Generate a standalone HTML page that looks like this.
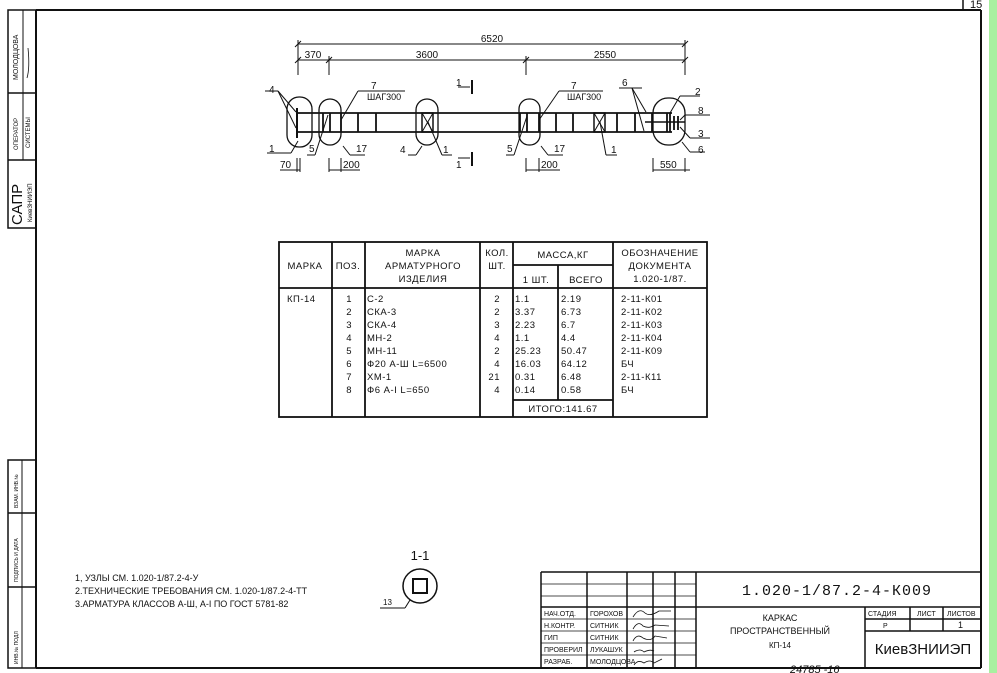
<!DOCTYPE html>
<html><head><meta charset="utf-8"><style>
html,body{margin:0;padding:0;background:#fff;}
svg{display:block;}
text{font-family:"Liberation Sans",sans-serif;fill:#111;}
.m{font-family:"Liberation Mono",monospace;}
</style></head><body>
<svg width="997" height="673" viewBox="0 0 997 673" xmlns="http://www.w3.org/2000/svg">
<rect x="0" y="0" width="997" height="673" fill="#fff"/>
<rect x="989" y="0" width="8" height="673" fill="#a8f0a0"/>
<g stroke="#111" fill="none">
<!-- frame -->
<line x1="36" y1="10" x2="981" y2="10" stroke-width="2"/>
<line x1="981" y1="10" x2="981" y2="668" stroke-width="2"/>
<line x1="36" y1="668" x2="981" y2="668" stroke-width="2"/>
<line x1="36" y1="10" x2="36" y2="668" stroke-width="2"/>
<line x1="963" y1="0" x2="963" y2="10" stroke-width="1.5"/>
<!-- left stamps -->
<rect x="8" y="10" width="28" height="218" stroke-width="1.5"/>
<line x1="23" y1="10" x2="23" y2="160" stroke-width="1"/>
<line x1="8" y1="93" x2="36" y2="93" stroke-width="1.5"/>
<line x1="8" y1="160" x2="36" y2="160" stroke-width="1.5"/>
<rect x="8" y="460" width="28" height="208" stroke-width="1.5"/>
<line x1="22" y1="460" x2="22" y2="668" stroke-width="1"/>
<line x1="8" y1="513" x2="36" y2="513" stroke-width="1.5"/>
<line x1="8" y1="587" x2="36" y2="587" stroke-width="1.5"/>
<!-- dimension lines -->
<g stroke-width="1">
<line x1="298" y1="44" x2="685" y2="44"/>
<line x1="298" y1="60" x2="685" y2="60"/>
<line x1="298" y1="40" x2="298" y2="75"/>
<line x1="329" y1="56" x2="329" y2="75"/>
<line x1="526" y1="56" x2="526" y2="75"/>
<line x1="685" y1="40" x2="685" y2="75"/>
<line x1="295" y1="47" x2="301" y2="41"/><line x1="682" y1="47" x2="688" y2="41"/>
<line x1="295" y1="63" x2="301" y2="57"/><line x1="326" y1="63" x2="332" y2="57"/>
<line x1="523" y1="63" x2="529" y2="57"/><line x1="682" y1="63" x2="688" y2="57"/>
</g>
<!-- beam -->
<line x1="297" y1="113" x2="672" y2="113" stroke-width="1.8"/>
<line x1="297" y1="132" x2="672" y2="132" stroke-width="1.8"/>
<line x1="297" y1="108" x2="297" y2="138" stroke-width="2"/>
<line x1="297" y1="113" x2="312" y2="113" stroke-width="1"/>
<g stroke-width="1.8">
<line x1="323" y1="113" x2="323" y2="132"/><line x1="330" y1="113" x2="330" y2="132"/>
<line x1="341" y1="113" x2="341" y2="132"/><line x1="358" y1="113" x2="358" y2="132"/>
<line x1="376" y1="113" x2="376" y2="132"/>
<line x1="520" y1="113" x2="520" y2="132"/><line x1="527" y1="113" x2="527" y2="132"/>
<line x1="539" y1="113" x2="539" y2="132"/><line x1="556" y1="113" x2="556" y2="132"/>
<line x1="573" y1="113" x2="573" y2="132"/><line x1="617" y1="113" x2="617" y2="132"/>
<line x1="635" y1="113" x2="635" y2="132"/><line x1="652" y1="113" x2="652" y2="132"/>
<line x1="667" y1="113" x2="667" y2="132"/><line x1="670" y1="113" x2="670" y2="132"/>
<line x1="674" y1="116" x2="674" y2="130"/><line x1="678" y1="116" x2="678" y2="130"/>
</g>
<line x1="645" y1="122" x2="685" y2="122" stroke-width="1.5"/>
<rect x="422" y="113" width="11" height="19" stroke-width="1.5"/>
<line x1="422" y1="113" x2="433" y2="132"/><line x1="433" y1="113" x2="422" y2="132"/>
<rect x="594" y="113" width="11" height="19" stroke-width="1.5"/>
<line x1="594" y1="113" x2="605" y2="132"/><line x1="605" y1="113" x2="594" y2="132"/>
<!-- ovals -->
<g stroke-width="1.3">
<rect x="287" y="97" width="25" height="50" rx="12"/>
<rect x="319" y="99" width="22" height="46" rx="11"/>
<rect x="416" y="99" width="22" height="46" rx="11"/>
<rect x="519" y="99" width="21" height="46" rx="10"/>
<rect x="653" y="98" width="32" height="47" rx="15"/>
</g>
<!-- section marks -->
<line x1="472" y1="80" x2="472" y2="94" stroke-width="2"/>
<line x1="458" y1="87" x2="470" y2="87"/>
<line x1="472" y1="152" x2="472" y2="166" stroke-width="2"/>
<line x1="458" y1="158" x2="470" y2="158"/>
<!-- leaders -->
<g stroke-width="1">
<line x1="265" y1="91" x2="278" y2="91"/><line x1="278" y1="91" x2="296" y2="112"/><line x1="278" y1="91" x2="296" y2="128"/>
<line x1="267" y1="153" x2="291" y2="153"/><line x1="291" y1="153" x2="298" y2="141"/>
<line x1="307" y1="155" x2="315" y2="155"/><line x1="315" y1="155" x2="328" y2="115"/>
<line x1="343" y1="146" x2="350" y2="155"/><line x1="350" y1="155" x2="365" y2="155"/>
<line x1="405" y1="91" x2="358" y2="91"/><line x1="358" y1="91" x2="341" y2="120"/>
<line x1="408" y1="155" x2="416" y2="155"/><line x1="416" y1="155" x2="422" y2="146"/>
<line x1="428" y1="122" x2="442" y2="155"/><line x1="442" y1="155" x2="452" y2="155"/>
<line x1="506" y1="155" x2="514" y2="155"/><line x1="514" y1="155" x2="527" y2="116"/>
<line x1="541" y1="146" x2="548" y2="155"/><line x1="548" y1="155" x2="563" y2="155"/>
<line x1="603" y1="91" x2="559" y2="91"/><line x1="559" y1="91" x2="539" y2="120"/>
<line x1="600" y1="122" x2="606" y2="155"/><line x1="606" y1="155" x2="617" y2="155"/>
<line x1="619" y1="88" x2="642" y2="88"/><line x1="632" y1="88" x2="646" y2="112"/><line x1="632" y1="88" x2="644" y2="131"/>
<line x1="680" y1="96" x2="700" y2="96"/><line x1="680" y1="96" x2="670" y2="113"/>
<line x1="685" y1="115" x2="710" y2="115"/><line x1="680" y1="120" x2="685" y2="115"/>
<line x1="680" y1="127" x2="690" y2="138"/><line x1="690" y1="138" x2="710" y2="138"/>
<line x1="682" y1="142" x2="690" y2="152"/><line x1="690" y1="152" x2="705" y2="152"/>
</g>
<!-- bottom dims -->
<g stroke-width="1">
<line x1="280" y1="170" x2="300" y2="170"/><line x1="297" y1="158" x2="297" y2="172"/><line x1="300" y1="158" x2="300" y2="172"/>
<line x1="329" y1="158" x2="329" y2="172"/><line x1="341" y1="158" x2="341" y2="172"/><line x1="329" y1="170" x2="360" y2="170"/>
<line x1="526" y1="158" x2="526" y2="172"/><line x1="539" y1="158" x2="539" y2="172"/><line x1="526" y1="170" x2="560" y2="170"/>
<line x1="653" y1="158" x2="653" y2="172"/><line x1="685" y1="158" x2="685" y2="172"/><line x1="653" y1="170" x2="690" y2="170"/>
</g>
<!-- table -->
<g stroke-width="1.8">
<rect x="279" y="242" width="428" height="175"/>
<line x1="279" y1="288" x2="707" y2="288"/>
<line x1="332" y1="242" x2="332" y2="417"/>
<line x1="365" y1="242" x2="365" y2="417"/>
<line x1="480" y1="242" x2="480" y2="417"/>
<line x1="513" y1="242" x2="513" y2="417"/>
<line x1="613" y1="242" x2="613" y2="417"/>
<line x1="513" y1="265" x2="613" y2="265"/>
<line x1="558" y1="265" x2="558" y2="400"/>
<line x1="513" y1="400" x2="613" y2="400"/>
</g>
<!-- section 1-1 -->
<circle cx="420" cy="586" r="17" stroke-width="1.5"/>
<rect x="413" y="579" width="14" height="14" stroke-width="2"/>
<line x1="380" y1="608" x2="405" y2="608"/><line x1="405" y1="608" x2="410" y2="600"/>
<!-- title block -->
<g stroke-width="1.5">
<line x1="541" y1="572" x2="981" y2="572"/>
<line x1="541" y1="572" x2="541" y2="668"/>
<line x1="587" y1="572" x2="587" y2="668"/>
<line x1="627" y1="572" x2="627" y2="668"/>
<line x1="653" y1="572" x2="653" y2="668"/>
<line x1="675" y1="572" x2="675" y2="668"/>
<line x1="696" y1="572" x2="696" y2="668"/>
<line x1="541" y1="607" x2="981" y2="607"/>
<line x1="865" y1="607" x2="865" y2="668"/>
<line x1="865" y1="619" x2="981" y2="619"/>
<line x1="865" y1="631" x2="981" y2="631"/>
<line x1="910" y1="607" x2="910" y2="631"/>
<line x1="943" y1="607" x2="943" y2="631"/>
</g>
<g stroke-width="0.8">
<line x1="541" y1="584" x2="696" y2="584"/>
<line x1="541" y1="596" x2="696" y2="596"/>
<line x1="541" y1="619" x2="696" y2="619"/>
<line x1="541" y1="631" x2="696" y2="631"/>
<line x1="541" y1="643" x2="696" y2="643"/>
<line x1="541" y1="655" x2="696" y2="655"/>
</g>
<!-- signatures -->
<g stroke-width="0.8">
<path d="M633 617 q6 -10 12 -4 q5 4 14 -2 l12 0"/>
<path d="M633 629 q5 -9 10 -3 q6 3 12 -1 l14 1"/>
<path d="M633 641 q4 -8 10 -3 q8 4 12 -2 l12 2"/>
<path d="M634 652 q6 -4 10 0 q6 -3 10 -1"/>
<path d="M634 665 q4 -6 10 -2 q6 -4 10 0 l8 -4"/>
</g>
</g>
<!-- texts -->
<g class="m" font-size="10">
<text x="492" y="42" text-anchor="middle">6520</text>
<text x="313" y="58" text-anchor="middle">370</text>
<text x="427" y="58" text-anchor="middle">3600</text>
<text x="605" y="58" text-anchor="middle">2550</text>
<text x="269" y="93">4</text>
<text x="371" y="89">7</text><text x="367" y="100" font-size="9">ШАГ300</text>
<text x="571" y="89">7</text><text x="567" y="100" font-size="9">ШАГ300</text>
<text x="456" y="86">1</text><text x="456" y="168">1</text>
<text x="622" y="86">6</text>
<text x="695" y="95">2</text><text x="698" y="114">8</text><text x="698" y="137">3</text><text x="698" y="153">6</text>
<text x="269" y="152">1</text><text x="309" y="152">5</text><text x="356" y="152">17</text>
<text x="400" y="153">4</text><text x="443" y="153">1</text>
<text x="507" y="152">5</text><text x="554" y="152">17</text><text x="611" y="153">1</text>
<text x="280" y="168">70</text><text x="343" y="168">200</text><text x="541" y="168">200</text><text x="660" y="168">550</text>
</g>
<g class="m" font-size="9.5" letter-spacing="0.5">
<text x="305" y="269" text-anchor="middle">МАРКА</text>
<text x="348" y="269" text-anchor="middle">ПОЗ.</text>
<text x="423" y="256" text-anchor="middle">МАРКА</text>
<text x="423" y="269" text-anchor="middle">АРМАТУРНОГО</text>
<text x="423" y="282" text-anchor="middle">ИЗДЕЛИЯ</text>
<text x="497" y="256" text-anchor="middle">КОЛ.</text>
<text x="497" y="269" text-anchor="middle">ШТ.</text>
<text x="563" y="258" text-anchor="middle">МАССА,КГ</text>
<text x="536" y="283" text-anchor="middle">1 ШТ.</text>
<text x="586" y="283" text-anchor="middle">ВСЕГО</text>
<text x="660" y="256" text-anchor="middle">ОБОЗНАЧЕНИЕ</text>
<text x="660" y="269" text-anchor="middle">ДОКУМЕНТА</text>
<text x="660" y="282" text-anchor="middle">1.020-1/87.</text>
<text x="287" y="302">КП-14</text>
</g>
<g class="m" font-size="9.5" letter-spacing="0.5">
<text x="352" y="302" text-anchor="end">1</text><text x="352" y="315" text-anchor="end">2</text><text x="352" y="328" text-anchor="end">3</text><text x="352" y="341" text-anchor="end">4</text><text x="352" y="354" text-anchor="end">5</text><text x="352" y="367" text-anchor="end">6</text><text x="352" y="380" text-anchor="end">7</text><text x="352" y="393" text-anchor="end">8</text>
<text x="367" y="302">С-2</text><text x="367" y="315">СКА-3</text><text x="367" y="328">СКА-4</text><text x="367" y="341">МН-2</text><text x="367" y="354">МН-11</text><text x="367" y="367">Ф20 А-Ш L=6500</text><text x="367" y="380">ХМ-1</text><text x="367" y="393">Ф6 А-I L=650</text>
<text x="500" y="302" text-anchor="end">2</text><text x="500" y="315" text-anchor="end">2</text><text x="500" y="328" text-anchor="end">3</text><text x="500" y="341" text-anchor="end">4</text><text x="500" y="354" text-anchor="end">2</text><text x="500" y="367" text-anchor="end">4</text><text x="500" y="380" text-anchor="end">21</text><text x="500" y="393" text-anchor="end">4</text>
<text x="515" y="302">1.1</text><text x="515" y="315">3.37</text><text x="515" y="328">2.23</text><text x="515" y="341">1.1</text><text x="515" y="354">25.23</text><text x="515" y="367">16.03</text><text x="515" y="380">0.31</text><text x="515" y="393">0.14</text>
<text x="561" y="302">2.19</text><text x="561" y="315">6.73</text><text x="561" y="328">6.7</text><text x="561" y="341">4.4</text><text x="561" y="354">50.47</text><text x="561" y="367">64.12</text><text x="561" y="380">6.48</text><text x="561" y="393">0.58</text>
<text x="563" y="412" text-anchor="middle">ИТОГО:141.67</text>
<text x="621" y="302">2-11-К01</text><text x="621" y="315">2-11-К02</text><text x="621" y="328">2-11-К03</text><text x="621" y="341">2-11-К04</text><text x="621" y="354">2-11-К09</text><text x="621" y="367">БЧ</text><text x="621" y="380">2-11-К11</text><text x="621" y="393">БЧ</text>
</g>
<g font-size="9">
<text x="75" y="581">1, УЗЛЫ СМ. 1.020-1/87.2-4-У</text>
<text x="75" y="594">2.ТЕХНИЧЕСКИЕ ТРЕБОВАНИЯ СМ. 1.020-1/87.2-4-ТТ</text>
<text x="75" y="607">3.АРМАТУРА КЛАССОВ А-Ш, А-I ПО ГОСТ 5781-82</text>
</g>
<text x="420" y="560" font-size="13" text-anchor="middle">1-1</text>
<text x="383" y="605" font-size="8">13</text>
<!-- title texts -->
<text class="m" x="837" y="595" font-size="15" text-anchor="middle" letter-spacing="1">1.020-1/87.2-4-К009</text>
<g font-size="7">
<text x="544" y="616">НАЧ.ОТД.</text><text x="590" y="616">ГОРОХОВ</text>
<text x="544" y="628">Н.КОНТР.</text><text x="590" y="628">СИТНИК</text>
<text x="544" y="640">ГИП</text><text x="590" y="640">СИТНИК</text>
<text x="544" y="652">ПРОВЕРИЛ</text><text x="590" y="652">ЛУКАШУК</text>
<text x="544" y="664">РАЗРАБ.</text><text x="590" y="664">МОЛОДЦОВА</text>
<text x="868" y="616">СТАДИЯ</text><text x="917" y="616">ЛИСТ</text><text x="947" y="616">ЛИСТОВ</text>
<text x="883" y="628">Р</text><text x="958" y="628" font-size="9">1</text>
</g>
<g font-size="9" text-anchor="middle">
<text x="780" y="621">КАРКАС</text>
<text x="780" y="634">ПРОСТРАНСТВЕННЫЙ</text>
<text x="780" y="648" font-size="8">КП-14</text>
</g>
<text x="923" y="654" font-size="15" text-anchor="middle">КиевЗНИИЭП</text>
<text x="790" y="673" font-size="11" font-style="italic">24785 -16</text>
<text x="970" y="8" font-size="11">15</text>
<!-- left stamp texts -->
<g font-size="7">
<text transform="translate(18,80) rotate(-90)">МОЛОДЦОВА</text>
<text transform="translate(18,150) rotate(-90)" font-size="6">ОПЕРАТОР</text>
<text transform="translate(30,148) rotate(-90)" font-size="6">СИСТЕМЫ</text>
<text transform="translate(22,225) rotate(-90)" font-size="15">САПР</text>
<text transform="translate(32,222) rotate(-90)" font-size="6">КиевЗНИИЭП</text>
<text transform="translate(18,508) rotate(-90)" font-size="5">ВЗАМ. ИНВ.№</text>
<text transform="translate(18,582) rotate(-90)" font-size="5">ПОДПИСЬ И ДАТА</text>
<text transform="translate(18,664) rotate(-90)" font-size="5">ИНВ.№ ПОДЛ</text>
</g>
<path d="M27 78 q3 -10 1 -30" stroke="#111" fill="none" stroke-width="0.8"/>
</svg>
</body></html>
